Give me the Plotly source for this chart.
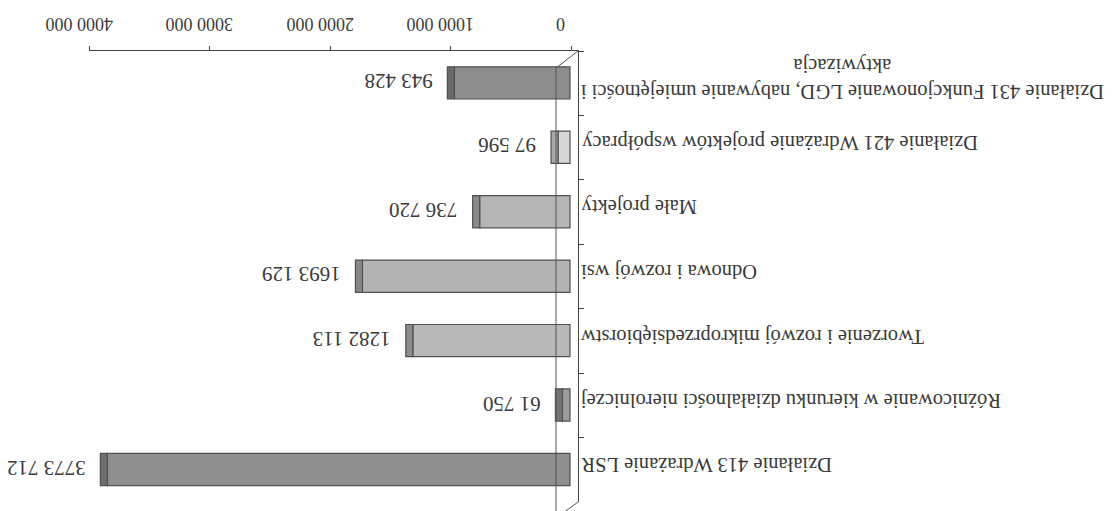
import plotly.graph_objects as go

categories = [
    "Działanie 431 Funkcjonowanie LGD, nabywanie umiejętności i<br>aktywizacja",
    "Działanie 421 Wdrażanie projektów współpracy",
    "Małe projekty",
    "Odnowa i rozwój wsi",
    "Tworzenie i rozwój mikroprzedsiębiorstw",
    "Różnicowanie w kierunku działalności nierolniczej",
    "Działanie 413 Wdrażanie LSR",
]
values = [943428, 97596, 736720, 1693129, 1282113, 61750, 3773712]
value_labels = ["943 428", "97 596", "736 720", "1693 129", "1282 113", "61 750", "3773 712"]
bar_colors = ["#8d8d8d", "#d6d6d6", "#b6b6b6", "#b3b3b3", "#b8b8b8", "#9c9c9c", "#8f8f8f"]
cap_colors = ["#6a6a6a", "#a8a8a8", "#8a8a8a", "#888888", "#8c8c8c", "#747474", "#6e6e6e"]
tick_values = [0, 1000000, 2000000, 3000000, 4000000]
tick_labels = ["0", "1000 000", "2000 000", "3000 000", "4000 000"]

W, H = 1116, 511
L, R, T, B = 81, 570, 43, 494
FONT = "Liberation Serif"
TXT = "#3a3a3a"

# front (tick) plane: 0 at pixel 563, 4 000 000 at pixel 81
FRONT_ZERO_PX = 563
front_scale = (FRONT_ZERO_PX - L) / 4000000.0
front_range = [4000000, -(R - FRONT_ZERO_PX) / front_scale]
# back (bar) plane of the 3D chart: 0 at pixel 562, slightly larger scale
BAR_ZERO_PX = 562
bar_scale = 122.6 / 1000000.0
bar_lo = -(R - BAR_ZERO_PX) / bar_scale
bar_range = [bar_lo + (R - L) / bar_scale, bar_lo]
CAP_PX = 7


def px(x):
    return (x - L) / (R - L)


def py(y):
    return (B - y) / (B - T)


fig = go.Figure()
fig.add_trace(go.Bar(
    orientation="h",
    x=values,
    y=categories,
    xaxis="x2",
    width=0.5,
    offset=-0.255,
    marker=dict(color=bar_colors, line=dict(color="#505050", width=1.2)),
    hoverinfo="skip",
))
# dark end face of the 3D bars
fig.add_trace(go.Bar(
    orientation="h",
    x=[CAP_PX / bar_scale] * len(values),
    base=values,
    y=categories,
    xaxis="x2",
    width=0.5,
    offset=-0.255,
    marker=dict(color=cap_colors, line=dict(color="#505050", width=1.2)),
    hoverinfo="skip",
))

annotations = []
for c, v, lab in zip(categories, values, value_labels):
    annotations.append(dict(
        x=v, y=c, xref="x2", yref="y", text=lab, showarrow=False,
        xanchor="right", yanchor="middle", xshift=-20, yshift=2,
        textangle=180, font=dict(family=FONT, size=21, color=TXT),
    ))
    annotations.append(dict(
        x=px(585), y=c, xref="paper", yref="y", text=c, showarrow=False,
        xanchor="left", yanchor="middle", xshift=-14, yshift=5, align="center",
        textangle=180, font=dict(family=FONT, size=20.5, color=TXT),
    ))
for tv, tl in zip(tick_values, tick_labels):
    annotations.append(dict(
        x=tv, y=1, xref="x", yref="paper", text=tl, showarrow=False,
        xanchor="center", yanchor="bottom", xshift=-10, yshift=15,
        textangle=180, font=dict(family=FONT, size=18, color=TXT),
    ))

line = dict(color="#555555", width=1)
shapes = [
    dict(type="line", xref="paper", yref="paper", x0=px(548), y0=py(60), x1=px(548), y1=py(511), line=line),
    dict(type="line", xref="paper", yref="paper", x0=px(548), y0=py(60), x1=px(570), y1=py(43), line=line),
    dict(type="line", xref="paper", yref="paper", x0=px(548), y0=py(510), x1=px(570), y1=py(494), line=line),
]

fig.update_layout(
    width=W, height=H,
    margin=dict(l=L, r=W - R, t=T, b=H - B),
    paper_bgcolor="white", plot_bgcolor="white",
    showlegend=False,
    barmode="overlay",
    annotations=annotations,
    shapes=shapes,
    xaxis=dict(
        range=front_range, side="top", showline=True, linecolor="#444444", linewidth=1,
        ticks="outside", ticklen=4, tickcolor="#444444", tickvals=tick_values,
        showticklabels=False, showgrid=False, zeroline=False,
    ),
    xaxis2=dict(
        range=bar_range, overlaying="x", visible=False, showgrid=False, zeroline=False,
    ),
    yaxis=dict(
        type="category", categoryorder="array", categoryarray=categories,
        range=[6.5, -0.5], side="right", showline=True, linecolor="#444444", linewidth=1,
        ticks="outside", ticklen=5, tickcolor="#444444", tickson="boundaries",
        showticklabels=False, showgrid=False, zeroline=False,
    ),
)

fig.write_html("out.html")
